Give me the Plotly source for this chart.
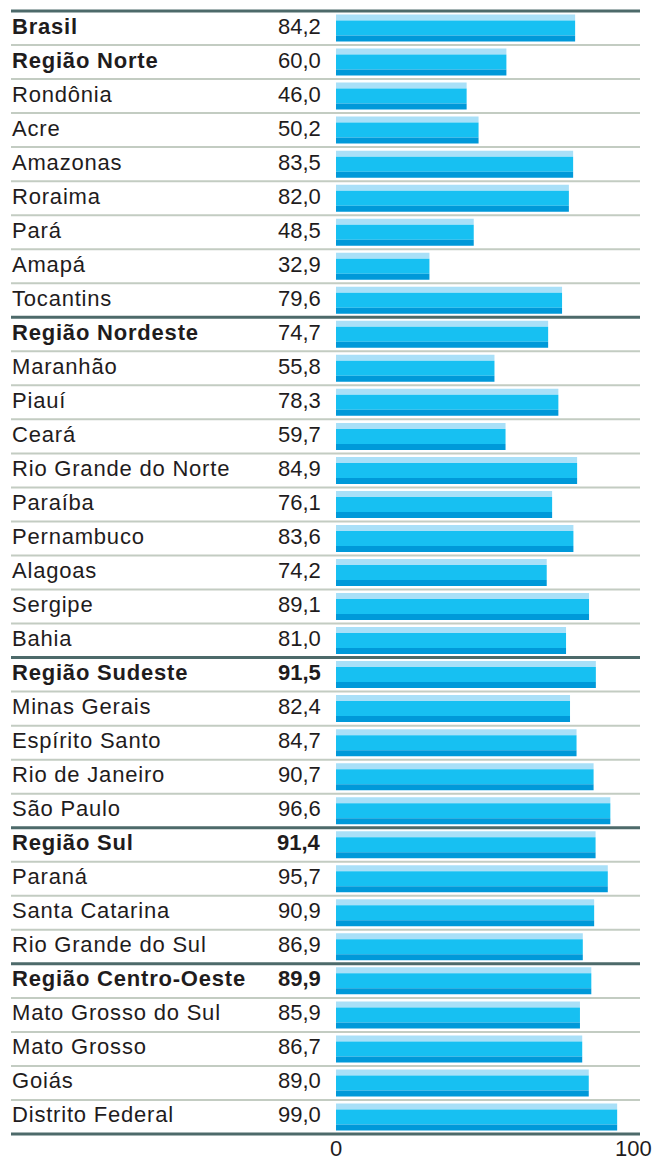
import plotly.graph_objects as go

labels = ["Brasil", "Região Norte", "Rondônia", "Acre", "Amazonas", "Roraima", "Pará", "Amapá",
          "Tocantins", "Região Nordeste", "Maranhão", "Piauí", "Ceará", "Rio Grande do Norte",
          "Paraíba", "Pernambuco", "Alagoas", "Sergipe", "Bahia", "Região Sudeste", "Minas Gerais",
          "Espírito Santo", "Rio de Janeiro", "São Paulo", "Região Sul", "Paraná", "Santa Catarina",
          "Rio Grande do Sul", "Região Centro-Oeste", "Mato Grosso do Sul", "Mato Grosso", "Goiás",
          "Distrito Federal"]
values = [84.2, 60.0, 46.0, 50.2, 83.5, 82.0, 48.5, 32.9, 79.6, 74.7, 55.8, 78.3, 59.7, 84.9,
          76.1, 83.6, 74.2, 89.1, 81.0, 91.5, 82.4, 84.7, 90.7, 96.6, 91.4, 95.7, 90.9, 86.9,
          89.9, 85.9, 86.7, 89.0, 99.0]
bold_labels = [0, 1, 9, 19, 24, 28]
bold_values = [19, 24, 28]
thick_before = [0, 9, 19, 24, 28, 33]
tick_vals = [0, 100]
tick_text = ["0", "100"]

W, H = 659, 1161
top_px, bot_px = 11, 1134
n = len(labels)
pitch = (bot_px - top_px) / n
x0_px, x100_px = 336, 620
scale = (x100_px - x0_px) / 100.0
xr = [-x0_px / scale, (W - x0_px) / scale]
yr = [(H - top_px) / pitch - 0.5, (0 - top_px) / pitch - 0.5]

rows = list(range(n))
u = 1.0 / pitch
LIGHT, MAIN, DARK = "#a9e0f8", "#17c0f2", "#0099d9"
TXT = "#1f1c1d"
FONT = "Liberation Sans, Arial, sans-serif"
FS = 22

fig = go.Figure()
for off, wid, col in [(-13.5 * u, 6 * u, LIGHT), (-7.5 * u, 15 * u, MAIN), (7.5 * u, 6 * u, DARK)]:
    fig.add_trace(go.Bar(x=values, y=rows, orientation="h", offset=off, width=wid,
                         marker=dict(color=col, line=dict(width=0)), hoverinfo="skip",
                         showlegend=False))

shapes = []
for b in range(n + 1):
    thick = b in thick_before
    shapes.append(dict(type="line", xref="paper", yref="y",
                       x0=11 / W, x1=640 / W, y0=b - 0.5, y1=b - 0.5,
                       line=dict(color="#4d6a6a" if thick else "#c3ccc2", width=3 if thick else 2),
                       layer="above"))

ann = []
for i, (lab, v) in enumerate(zip(labels, values)):
    t = f"<b>{lab}</b>" if i in bold_labels else lab
    vs = f"{v:.1f}".replace(".", ",")
    vs = f"<b>{vs}</b>" if i in bold_values else vs
    ann.append(dict(xref="paper", yref="y", x=10 / W, y=i, text=t, showarrow=False, yshift=2,
                    xanchor="left", yanchor="middle", font=dict(size=FS, color=TXT, family=FONT)))
    ann.append(dict(xref="paper", yref="y", x=323 / W, y=i, text=vs, showarrow=False, yshift=2,
                    xanchor="right", yanchor="middle", font=dict(size=FS, color=TXT, family=FONT)))
for tv, tt in zip(tick_vals, tick_text):
    ann.append(dict(xref="x", yref="paper", x=tv, y=0, text=tt, showarrow=False,
                    xanchor="center", yanchor="bottom", yshift=-2, xshift=13 if tv == 100 else 0,
                    font=dict(size=FS, color=TXT, family=FONT)))

fig.update_layout(
    width=W, height=H, margin=dict(l=0, r=0, t=0, b=0, pad=0),
    paper_bgcolor="white", plot_bgcolor="white", barmode="overlay",
    xaxis=dict(range=xr, showgrid=False, zeroline=False, showticklabels=False, fixedrange=True),
    yaxis=dict(range=yr, showgrid=False, zeroline=False, showticklabels=False, fixedrange=True),
    shapes=shapes, annotations=ann, showlegend=False,
)
post = (
    "document.body.style.margin='0';document.body.style.overflow='hidden';"
    "document.querySelectorAll('g.annotation').forEach(function(g){"
    "var i=+g.getAttribute('data-index');"
    "if(i<%d && i%%2===0){var t=g.querySelector('text');if(!t){return;}"
    "var b0=t.getBBox();t.style.letterSpacing='0.8px';var b1=t.getBBox();"
    "var x=parseFloat(t.getAttribute('x')||'0');t.setAttribute('x',x+(b0.x-b1.x));}"
    "});" % (2 * n)
)
fig.write_html("out.html", config={"displayModeBar": False}, post_script=post)
